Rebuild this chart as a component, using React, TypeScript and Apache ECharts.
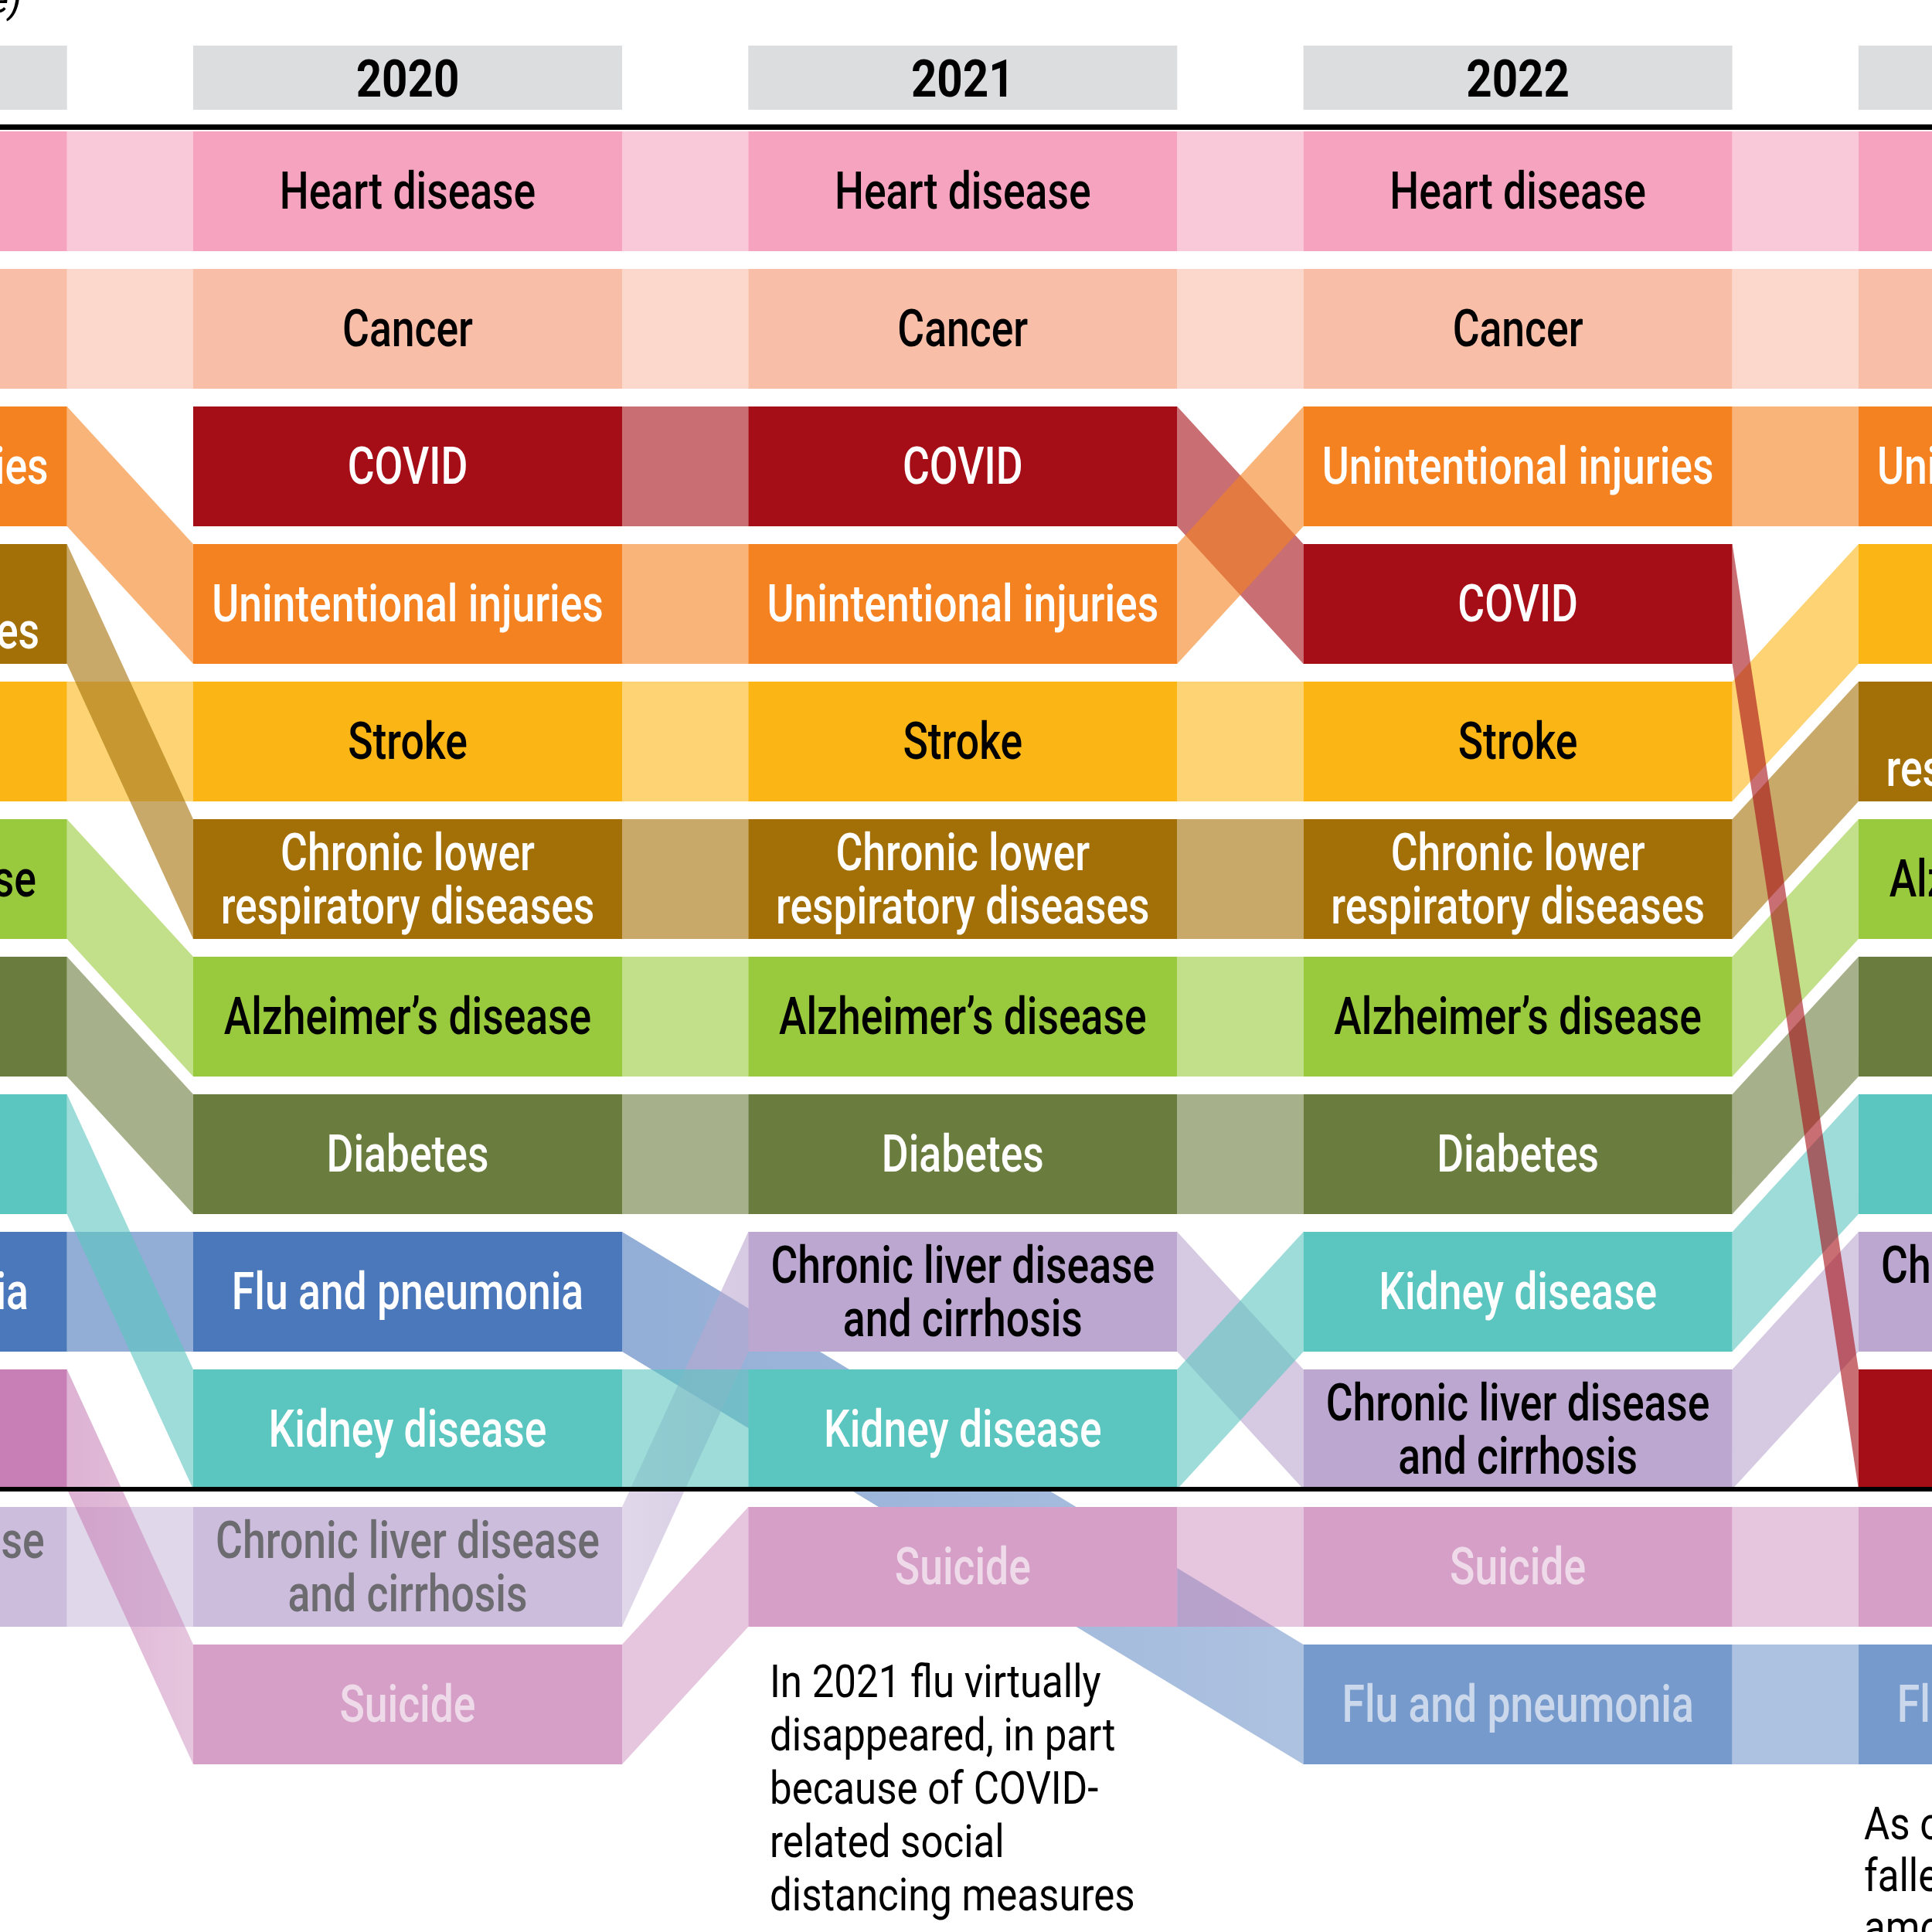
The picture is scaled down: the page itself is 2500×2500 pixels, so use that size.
import React, { useEffect, useRef } from "react";
import * as echarts from "echarts";

// ---------------- data ----------------
const years = [2019, 2020, 2021, 2022, 2023];
const causes = [
  "Heart disease",
  "Cancer",
  "COVID",
  "Unintentional injuries",
  "Stroke",
  "Chronic lower respiratory diseases",
  "Alzheimer’s disease",
  "Diabetes",
  "Flu and pneumonia",
  "Kidney disease",
  "Chronic liver disease and cirrhosis",
  "Suicide",
];
const labels = [
  "Heart disease",
  "Cancer",
  "COVID",
  "Unintentional injuries",
  "Stroke",
  "Chronic lower\nrespiratory diseases",
  "Alzheimer’s disease",
  "Diabetes",
  "Flu and pneumonia",
  "Kidney disease",
  "Chronic liver disease\nand cirrhosis",
  "Suicide",
];
// rank of each cause (same order as `causes`); null = not in the list that year
const ranks2019 = [1, 2, null, 3, 5, 4, 6, 7, 9, 8, 11, 10];
const ranks2020 = [1, 2, 3, 4, 5, 6, 7, 8, 9, 10, 11, 12];
const ranks2021 = [1, 2, 3, 4, 5, 6, 7, 8, null, 10, 9, 11];
const ranks2022 = [1, 2, 4, 3, 5, 6, 7, 8, 12, 9, 10, 11];
const ranks2023 = [1, 2, 10, 3, 4, 5, 6, 7, 12, 8, 9, 11];
const rankTable = [ranks2019, ranks2020, ranks2021, ranks2022, ranks2023];
const TOP_N = 10;

const note2021 = [
  "In 2021 flu virtually",
  "disappeared, in part",
  "because of COVID-",
  "related social",
  "distancing measures",
];
const note2023 = ["As of 2023 COVID had", "fallen to 10th place", "among the leading causes"];
const topNote = "(age-adjusted death rate)";

// ---------------- styles ----------------
const boxColors = [
  "#f5a3bf", "#f8bea8", "#a50e16", "#f58220", "#fbb616", "#a36f07",
  "#99c93c", "#6a7d3e", "#4a78bb", "#5bc5bf", "#bba7d0", "#c77fb6",
];
const darkText = [true, true, false, false, true, false, true, false, false, false, true, false];
// stacking of ribbons, bottom -> top (cause indices)
const ribbonStack = [0, 1, 4, 5, 6, 7, 8, 10, 9, 11, 2, 3];

const W = 2500;
const H = 2500;
const COL_PITCH = 718.3;
const COL_W = 555;
const CENTER_2020 = 527.5;
const ROW_PITCH = 178;
const ROW_H = 155;
const ROW1_CENTER = 247.5;

const XMIN = 2020 - CENTER_2020 / COL_PITCH;
const XMAX = XMIN + W / COL_PITCH;
const YMIN = 1 - ROW1_CENTER / ROW_PITCH;
const YMAX = YMIN + H / ROW_PITCH;

const FONT = "Roboto, 'Noto Sans', sans-serif";

function hexRgb(hex: string) {
  const h = hex.replace("#", "");
  return [parseInt(h.slice(0, 2), 16), parseInt(h.slice(2, 4), 16), parseInt(h.slice(4, 6), 16)];
}
function rgba(hex: string, a: number) {
  const [r, g, b] = hexRgb(hex);
  return `rgba(${r},${g},${b},${a})`;
}
function blendWhite(hex: string, a: number) {
  const [r, g, b] = hexRgb(hex);
  const f = (v: number) => Math.round(v * a + 255 * (1 - a));
  return `rgb(${f(r)},${f(g)},${f(b)})`;
}

// box items: [year, rank, causeIndex]
const boxData: number[][] = [];
years.forEach((y, yi) => {
  rankTable[yi].forEach((r, ci) => {
    if (r != null) boxData.push([y, r, ci]);
  });
});

// ribbons: [year1, rank1, year2, rank2, causeIndex]
const ribbonData: number[][] = [];
ribbonStack.forEach((ci) => {
  const pts: number[][] = [];
  years.forEach((y, yi) => {
    const r = rankTable[yi][ci];
    if (r != null) pts.push([y, r]);
  });
  for (let i = 0; i + 1 < pts.length; i++) {
    ribbonData.push([pts[i][0], pts[i][1], pts[i + 1][0], pts[i + 1][1], ci]);
  }
});

export default function App() {
  const ref = useRef<HTMLDivElement>(null);

  useEffect(() => {
    if (!ref.current) return;
    const chart = echarts.init(ref.current, null, { renderer: "svg" });

    const option: any = {
      animation: false,
      backgroundColor: "#ffffff",
      grid: { left: 0, right: 0, top: 0, bottom: 0 },
      xAxis: { type: "value", min: XMIN, max: XMAX, show: false, splitLine: { show: false } },
      yAxis: { type: "value", inverse: true, min: YMIN, max: YMAX, show: false, splitLine: { show: false } },
      series: [
        {
          name: "years",
          type: "custom",
          clip: false,
          silent: true,
          data: years.map((y) => [y, 1]),
          renderItem: (params: any, api: any) => {
            const c = api.coord([api.value(0), api.value(1)]);
            const s = api.size([1, 1]);
            const w = (s[0] * COL_W) / COL_PITCH;
            const h = (s[1] * ROW_H) / ROW_PITCH;
            const rowTop = c[1] - h / 2;
            const hb = rowTop - 28;
            const ht = hb - 83;
            return {
              type: "group",
              children: [
                { type: "rect", shape: { x: c[0] - w / 2, y: ht, width: w, height: hb - ht }, style: { fill: "#dcdddf" } },
                {
                  type: "text",
                  x: c[0],
                  y: (ht + hb) / 2 + 2,
                  scaleX: 0.87,
                  style: {
                    x: 0, y: 0,
                    text: String(api.value(0)),
                    fill: "#000",
                    fontSize: 67,
                    fontWeight: "bold",
                    fontFamily: FONT,
                    align: "center",
                    verticalAlign: "middle",
                  },
                },
              ],
            };
          },
        },
        {
          name: "ribbons",
          type: "custom",
          clip: false,
          silent: true,
          data: ribbonData,
          renderItem: (params: any, api: any) => {
            const y1 = api.value(0), r1 = api.value(1), y2 = api.value(2), r2 = api.value(3), ci = api.value(4);
            const c1 = api.coord([y1, r1]);
            const c2 = api.coord([y2, r2]);
            const s = api.size([1, 1]);
            const w = (s[0] * COL_W) / COL_PITCH;
            const h = (s[1] * ROW_H) / ROW_PITCH;
            const xa = c1[0] + w / 2;
            const xb = c2[0] - w / 2;
            const a1 = 0.6 * (r1 > TOP_N ? 0.75 : 1);
            const a2 = 0.6 * (r2 > TOP_N ? 0.75 : 1);
            const col = boxColors[ci];
            const fill =
              a1 === a2
                ? rgba(col, a1)
                : new echarts.graphic.LinearGradient(0, 0, 1, 0, [
                    { offset: 0, color: rgba(col, a1) },
                    { offset: 1, color: rgba(col, a2) },
                  ]);
            return {
              type: "polygon",
              shape: {
                points: [
                  [xa, c1[1] - h / 2],
                  [xb, c2[1] - h / 2],
                  [xb, c2[1] + h / 2],
                  [xa, c1[1] + h / 2],
                ],
              },
              style: { fill },
            };
          },
        },
        {
          name: "boxes",
          type: "custom",
          clip: false,
          silent: true,
          data: boxData,
          renderItem: (params: any, api: any) => {
            const rank = api.value(1);
            const ci = api.value(2);
            const c = api.coord([api.value(0), rank]);
            const s = api.size([1, 1]);
            const w = (s[0] * COL_W) / COL_PITCH;
            const h = (s[1] * ROW_H) / ROW_PITCH;
            const muted = rank > TOP_N;
            const fill = muted ? blendWhite(boxColors[ci], 0.75) : boxColors[ci];
            let tc = darkText[ci] ? "#000000" : "#ffffff";
            if (muted) tc = darkText[ci] ? "#6b6b70" : "rgba(255,255,255,0.62)";
            return {
              type: "group",
              children: [
                { type: "rect", shape: { x: c[0] - w / 2, y: c[1] - h / 2, width: w, height: h }, style: { fill } },
                {
                  type: "text",
                  x: c[0],
                  y: c[1],
                  scaleX: 0.81,
                  style: {
                    x: 0, y: 0,
                    text: labels[ci],
                    fill: tc,
                    fontSize: 66,
                    fontWeight: 500,
                    fontFamily: FONT,
                    align: "center",
                    verticalAlign: "middle",
                    lineHeight: 69,
                  },
                },
              ],
            };
          },
        },
        {
          name: "dividers",
          type: "custom",
          clip: false,
          silent: true,
          data: [[2020, 1, 0], [2020, TOP_N, 1]],
          renderItem: (params: any, api: any) => {
            const c = api.coord([api.value(0), api.value(1)]);
            const s = api.size([1, 1]);
            const h = (s[1] * ROW_H) / ROW_PITCH;
            const which = api.value(2);
            const y = which === 0 ? c[1] - h / 2 - 9 : c[1] + h / 2 - 3;
            const th = which === 0 ? 7 : 6;
            return {
              type: "rect",
              shape: { x: params.coordSys.x, y, width: params.coordSys.width, height: th },
              style: { fill: "#000000" },
            };
          },
        },
      ],
      graphic: [
        {
          type: "text",
          x: 28,
          y: 24,
          style: {
            text: topNote,
            fill: "#000",
            fontSize: 50,
            fontStyle: "italic",
            fontFamily: FONT,
            align: "right",
            verticalAlign: "bottom",
          },
        },
        ...note2021.map((t, i) => ({
          type: "text",
          x: 996,
          y: 2176 + i * 69,
          scaleX: 0.85,
          style: {
            x: 0, y: 0,
            text: t,
            fill: "#000",
            fontSize: 60,
            fontFamily: FONT,
            align: "left",
            verticalAlign: "middle",
          },
        })),
        ...note2023.map((t, i) => ({
          type: "text",
          x: 2412,
          y: 2360 + i * 67,
          scaleX: 0.85,
          style: {
            x: 0, y: 0,
            text: t,
            fill: "#000",
            fontSize: 60,
            fontFamily: FONT,
            align: "left",
            verticalAlign: "middle",
          },
        })),
      ],
    };

    chart.setOption(option);
    return () => chart.dispose();
  }, []);

  return (
    <div
      ref={ref}
      style={{ position: "absolute", left: 0, top: 0, width: W, height: H, background: "#fff" }}
    />
  );
}
